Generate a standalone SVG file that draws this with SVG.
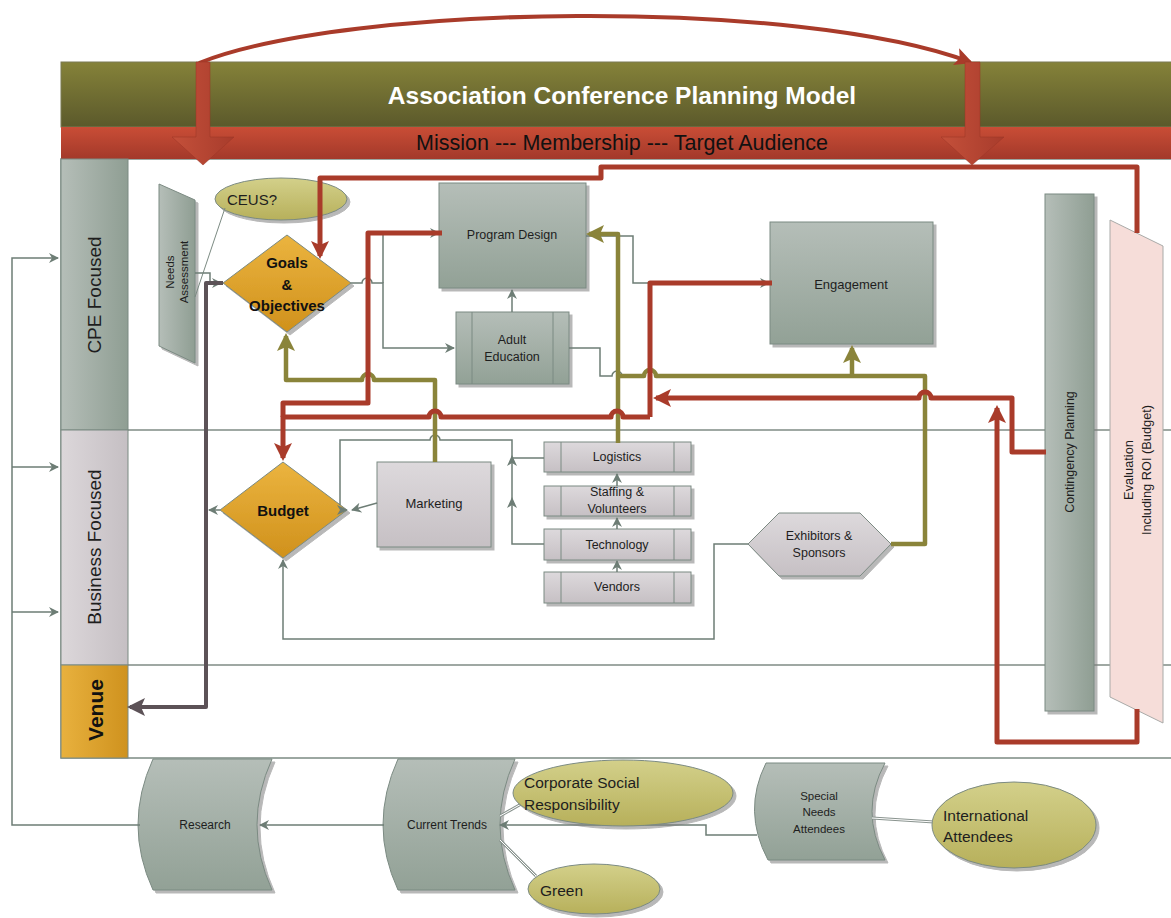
<svg xmlns="http://www.w3.org/2000/svg" width="1171" height="918" viewBox="0 0 1171 918">
<defs>
<linearGradient id="gTitle" x1="0" y1="0" x2="0" y2="1"><stop offset="0" stop-color="#858239"/><stop offset="1" stop-color="#5b592b"/></linearGradient>
<linearGradient id="gBand" x1="0" y1="0" x2="0" y2="1"><stop offset="0" stop-color="#c94d36"/><stop offset="1" stop-color="#a3392a"/></linearGradient>
<linearGradient id="gGreenV" x1="0" y1="0" x2="0" y2="1"><stop offset="0" stop-color="#b5beb8"/><stop offset="1" stop-color="#92a196"/></linearGradient>
<linearGradient id="gGreenH" x1="0" y1="0" x2="1" y2="0"><stop offset="0" stop-color="#b5beb8"/><stop offset="1" stop-color="#8f9e93"/></linearGradient>
<linearGradient id="gPinkV" x1="0" y1="0" x2="0" y2="1"><stop offset="0" stop-color="#ddd9dc"/><stop offset="1" stop-color="#c6c0c4"/></linearGradient>
<linearGradient id="gPinkH" x1="0" y1="0" x2="1" y2="0"><stop offset="0" stop-color="#dcd7da"/><stop offset="1" stop-color="#c5bfc3"/></linearGradient>
<linearGradient id="gOrangeV" x1="0" y1="0" x2="0" y2="1"><stop offset="0" stop-color="#ebb43f"/><stop offset="1" stop-color="#d0911c"/></linearGradient>
<linearGradient id="gOrangeH" x1="0" y1="0" x2="1" y2="0"><stop offset="0" stop-color="#e8b13e"/><stop offset="1" stop-color="#cf921e"/></linearGradient>
<linearGradient id="gOlive" x1="0" y1="0" x2="0" y2="1"><stop offset="0" stop-color="#d3d08a"/><stop offset="1" stop-color="#b7b05b"/></linearGradient>
<linearGradient id="gBlock" x1="0" y1="0" x2="1" y2="0"><stop offset="0" stop-color="#c4503a"/><stop offset="1" stop-color="#a83c2c"/></linearGradient>
<filter id="sh" x="-20%" y="-20%" width="140%" height="140%"><feDropShadow dx="3" dy="3" stdDeviation="0.6" flood-color="#7d7d7d" flood-opacity="0.55"/></filter>
<marker id="aG" viewBox="0 0 10 10" refX="9" refY="5" markerWidth="11" markerHeight="10" markerUnits="userSpaceOnUse" orient="auto"><path d="M0,0 L10,5 L0,10 L3,5 Z" fill="#6d7d75"/></marker>
<marker id="aR" viewBox="0 0 18 18" refX="15" refY="9" markerWidth="18" markerHeight="18" markerUnits="userSpaceOnUse" orient="auto"><path d="M0,0 L18,9 L0,18 L4,9 Z" fill="#a93b2a"/></marker>
<marker id="aO" viewBox="0 0 18 18" refX="15" refY="9" markerWidth="18" markerHeight="18" markerUnits="userSpaceOnUse" orient="auto"><path d="M0,0 L18,9 L0,18 L4,9 Z" fill="#8a843a"/></marker>
<marker id="aD" viewBox="0 0 18 18" refX="15" refY="9" markerWidth="18" markerHeight="18" markerUnits="userSpaceOnUse" orient="auto"><path d="M0,0 L18,9 L0,18 L4,9 Z" fill="#5c5257"/></marker>
</defs>
<style>
text{font-family:"Liberation Sans",Arial,sans-serif;fill:#1e1e1e;dominant-baseline:central}
.c{text-anchor:middle}
.nb{stroke:#7b8a82;stroke-width:1}
.g{fill:none;stroke:#6d7d75;stroke-width:1.5}
.r{fill:none;stroke:#a93b2a;stroke-width:5;stroke-linejoin:round}
.o{fill:none;stroke:#8a843a;stroke-width:4.5;stroke-linejoin:round}
.d{fill:none;stroke:#5c5257;stroke-width:4;stroke-linejoin:round}
.sep{stroke:#7f8b85;stroke-width:1.5}
.dbl{fill:none;stroke:#8a948f;stroke-width:3}
.dbl2{fill:none;stroke:#ffffff;stroke-width:1}
</style>
<rect width="1171" height="918" fill="#ffffff"/>

<!-- frame & lanes -->
<g id="frame">
<rect x="61" y="159" width="1115" height="599" fill="#ffffff" stroke="#7b8a82" stroke-width="1.5"/>
<line class="sep" x1="128" y1="430" x2="1171" y2="430"/>
<line class="sep" x1="128" y1="665" x2="1171" y2="665"/>
</g>
<g id="title">
<rect x="61" y="62" width="1115" height="65" fill="url(#gTitle)" stroke="#7b7a55" stroke-width="1"/>
<text class="c" x="622" y="95" style="font-size:24.5px;font-weight:bold;fill:#ffffff">Association Conference Planning Model</text>
</g>
<g id="band">
<rect x="61" y="127" width="1115" height="32" fill="url(#gBand)"/>
<text class="c" x="622" y="143" style="font-size:21.5px;fill:#111">Mission --- Membership --- Target Audience</text>
</g>
<g id="lane-cpe">
<rect class="nb" x="61" y="159" width="67" height="271" fill="url(#gGreenH)"/>
<text class="c" transform="translate(94,295) rotate(-90)" style="font-size:19px">CPE Focused</text>
</g>
<g id="lane-business">
<rect class="nb" x="61" y="430" width="67" height="235" fill="url(#gPinkH)"/>
<text class="c" transform="translate(94,547) rotate(-90)" style="font-size:19px">Business Focused</text>
</g>
<g id="lane-venue">
<rect class="nb" x="61" y="665" width="67" height="93" fill="url(#gOrangeH)"/>
<text class="c" transform="translate(95,710) rotate(-90)" style="font-size:21px;font-weight:bold;fill:#111">Venue</text>
</g>

<!-- nodes -->
<g id="needs-assessment">
<polygon class="nb" points="159,184 195,200 195,363 159,346" fill="url(#gGreenH)" filter="url(#sh)"/>
<text class="c" transform="translate(177,272) rotate(-90)" style="font-size:11.5px"><tspan x="0" y="-7">Needs</tspan><tspan x="0" y="7">Assessment</tspan></text>
</g>
<g id="ceus">
<ellipse class="nb" cx="281" cy="199" rx="66" ry="21" fill="url(#gOlive)" filter="url(#sh)"/>
<text x="227" y="199" style="font-size:15px">CEUS?</text>
</g>
<g id="goals">
<polygon class="nb" points="287,235 351,283 287,332 223,283" fill="url(#gOrangeV)" filter="url(#sh)"/>
<text class="c" x="287" y="262" style="font-size:15px;font-weight:bold;fill:#111">Goals</text>
<text class="c" x="287" y="284" style="font-size:15px;font-weight:bold;fill:#111">&amp;</text>
<text class="c" x="287" y="305" style="font-size:15px;font-weight:bold;fill:#111">Objectives</text>
</g>
<g id="program-design">
<rect class="nb" x="439" y="183" width="147" height="105" fill="url(#gGreenV)" filter="url(#sh)"/>
<text class="c" x="512" y="235" style="font-size:12.5px">Program Design</text>
</g>
<g id="adult-education">
<rect class="nb" x="456" y="312" width="113" height="72" fill="url(#gGreenV)" filter="url(#sh)"/>
<line class="nb" x1="472" y1="312" x2="472" y2="384"/><line class="nb" x1="553" y1="312" x2="553" y2="384"/>
<text class="c" x="512" y="340" style="font-size:12.5px">Adult</text>
<text class="c" x="512" y="357" style="font-size:12.5px">Education</text>
</g>
<g id="engagement">
<rect class="nb" x="770" y="222" width="163" height="122" fill="url(#gGreenV)" filter="url(#sh)"/>
<text class="c" x="851" y="284" style="font-size:13px">Engagement</text>
</g>
<g id="contingency">
<rect class="nb" x="1045" y="194" width="49" height="517" fill="url(#gGreenH)" filter="url(#sh)"/>
<text class="c" transform="translate(1070,452) rotate(-90)" style="font-size:12.5px">Contingency Planning</text>
</g>
<g id="evaluation">
<polygon points="1110,220 1163,246 1163,723 1110,697" fill="#f6ddd9" stroke="#a9aaa8" stroke-width="1"/>
<text class="c" transform="translate(1137,470) rotate(-90)" style="font-size:12.8px"><tspan x="0" y="-9">Evaluation</tspan><tspan x="0" y="9">Including ROI (Budget)</tspan></text>
</g>
<g id="budget">
<polygon class="nb" points="283,462 347,510 283,558 220,510" fill="url(#gOrangeV)" filter="url(#sh)"/>
<text class="c" x="283" y="510" style="font-size:15px;font-weight:bold;fill:#111">Budget</text>
</g>
<g id="marketing">
<rect class="nb" x="377" y="462" width="114" height="85" fill="url(#gPinkV)" filter="url(#sh)"/>
<text class="c" x="434" y="503" style="font-size:13px">Marketing</text>
</g>
<g id="logistics">
<rect class="nb" x="544" y="442" width="147" height="30" fill="url(#gPinkV)" filter="url(#sh)"/>
<line class="nb" x1="561" y1="442" x2="561" y2="472"/><line class="nb" x1="674" y1="442" x2="674" y2="472"/>
<text class="c" x="617" y="457" style="font-size:12.5px">Logistics</text>
</g>
<g id="staffing">
<rect class="nb" x="544" y="486" width="147" height="30" fill="url(#gPinkV)" filter="url(#sh)"/>
<line class="nb" x1="561" y1="486" x2="561" y2="516"/><line class="nb" x1="674" y1="486" x2="674" y2="516"/>
<text class="c" x="617" y="492" style="font-size:12.5px">Staffing &amp;</text>
<text class="c" x="617" y="509" style="font-size:12.5px">Volunteers</text>
</g>
<g id="technology">
<rect class="nb" x="544" y="529" width="147" height="31" fill="url(#gPinkV)" filter="url(#sh)"/>
<line class="nb" x1="561" y1="529" x2="561" y2="560"/><line class="nb" x1="674" y1="529" x2="674" y2="560"/>
<text class="c" x="617" y="545" style="font-size:12.5px">Technology</text>
</g>
<g id="vendors">
<rect class="nb" x="544" y="572" width="147" height="31" fill="url(#gPinkV)" filter="url(#sh)"/>
<line class="nb" x1="561" y1="572" x2="561" y2="603"/><line class="nb" x1="674" y1="572" x2="674" y2="603"/>
<text class="c" x="617" y="587" style="font-size:12.5px">Vendors</text>
</g>
<g id="exhibitors">
<polygon class="nb" points="748,544 779,513 860,513 891,544 860,576 779,576" fill="url(#gPinkV)" filter="url(#sh)"/>
<text class="c" x="819" y="536" style="font-size:12.5px">Exhibitors &amp;</text>
<text class="c" x="819" y="553" style="font-size:12.5px">Sponsors</text>
</g>
<g id="research">
<path class="nb" d="M153,759 L272,759 Q242,825 272,890 L153,890 Q123,825 153,759 Z" fill="url(#gGreenV)" filter="url(#sh)"/>
<text class="c" x="205" y="825" style="font-size:12px">Research</text>
</g>
<g id="current-trends">
<path class="nb" d="M398,759 L515,759 Q485,825 515,890 L398,890 Q368,825 398,759 Z" fill="url(#gGreenV)" filter="url(#sh)"/>
<text class="c" x="447" y="825" style="font-size:12px">Current Trends</text>
</g>
<g id="special-needs">
<path class="nb" d="M766,763 L885,763 Q859,811 885,860 L768,860 Q742,811 766,763 Z" fill="url(#gGreenV)" filter="url(#sh)"/>
<text class="c" x="819" y="796" style="font-size:11.5px">Special</text>
<text class="c" x="819" y="812" style="font-size:11.5px">Needs</text>
<text class="c" x="819" y="829" style="font-size:11.5px">Attendees</text>
</g>

<!-- connectors -->
<g id="connectors">
<!-- grey thin -->
<path class="g" d="M140,825 H12 V258 H58" marker-end="url(#aG)"/>
<path class="g" d="M12,467 H58" marker-end="url(#aG)"/>
<path class="g" d="M12,612 H58" marker-end="url(#aG)"/>
<path class="g" d="M384,825 H260" marker-end="url(#aG)"/>
<path class="g" d="M757,835 H706 V825 H500" marker-end="url(#aG)"/>
<path class="dbl" d="M500,816 L530,799"/><path class="dbl2" d="M500,816 L530,799"/>
<path class="dbl" d="M500,840 L536,876"/><path class="dbl2" d="M500,840 L536,876"/>
<path class="dbl" d="M872,818 L934,822"/><path class="dbl2" d="M872,818 L934,822"/>
<path fill="none" stroke="#7b8a82" stroke-width="1" d="M195,297 L225,208"/>
<path class="g" d="M195,273 H210 V283 H221" marker-end="url(#aG)"/>
<path class="g" d="M351,283 H362 a5,5 0 0 1 10,0 H383 V348 H454" marker-end="url(#aG)"/>
<path class="g" d="M383,283 V233 H439" marker-end="url(#aG)"/>
<path class="g" d="M512,312 V290" marker-end="url(#aG)"/>
<path class="g" d="M586,236 H633 V283 H769" marker-end="url(#aG)"/>
<path class="g" d="M569,348 H600 V376 H612 a5,5 0 0 1 10,0 H630"/>
<path class="g" d="M544,458 H512"/>
<path class="g" d="M544,544 H512 V440 H440 a5,5 0 0 0 -10,0 H340 V505"/>
<polygon points="512,455 517,466 512,463 507,466" fill="#6d7d75"/>
<polygon points="512,497 517,508 512,505 507,508" fill="#6d7d75"/>
<polygon points="348,510 337,505 340,510 337,515" fill="#6d7d75"/>
<path class="g" d="M377,503 L352,510" marker-end="url(#aG)"/>
<path class="g" d="M220,510 H209" marker-end="url(#aG)"/>
<path class="g" d="M617,486 V474" marker-end="url(#aG)"/>
<path class="g" d="M617,529 V518" marker-end="url(#aG)"/>
<path class="g" d="M617,572 V561" marker-end="url(#aG)"/>
<path class="g" d="M748,544 H714 V639 H283 V560" marker-end="url(#aG)"/>
<!-- dark -->
<path class="d" d="M223,283 H206 V707 H130" marker-end="url(#aD)"/>
<!-- olive -->
<path class="o" d="M435,462 V380 H374 a6,6 0 0 0 -12,0 H286 V336" marker-end="url(#aO)"/>
<path class="o" d="M618,443 V234 H589" marker-end="url(#aO)"/>
<path class="o" d="M891,544 H925 V376 H656 a6,6 0 0 0 -12,0 H618"/>
<path class="o" d="M852,376 V348" marker-end="url(#aO)"/>
<!-- red -->
<path class="r" d="M1137,233 V167 H601 V178 H320 V256" marker-end="url(#aR)"/>
<path class="r" d="M1046,452 H1012 V398 H931 a6,6 0 0 0 -12,0 H656" marker-end="url(#aR)"/>
<path class="r" d="M1137,709 V742 H997 V408" marker-end="url(#aR)"/>
<path class="r" d="M650,417 V283 H772"/>
<path class="r" d="M650,417 H623 a6,6 0 0 0 -12,0 H441 a6,6 0 0 0 -12,0 H283 V458" marker-end="url(#aR)"/>
<path class="r" d="M283,417 V403 H368 V233 H442"/>
<path fill="none" stroke="#a93b2a" stroke-width="4" d="M199,63 C350,3 800,-2 970,62" marker-end="url(#aR)"/>
<g id="block-arrows" fill="url(#gBlock)" stroke="#9a3526" stroke-width="0.5">
<path d="M196,62 H210 V137 H234 L203,165 L172,137 H196 Z"/>
<path d="M965,62 H980 V137 H1004 L972,165 L941,137 H965 Z"/>
</g>
</g>

<g id="ellipses">
<g id="csr">
<ellipse class="nb" cx="623" cy="793" rx="110" ry="33" fill="url(#gOlive)" filter="url(#sh)"/>
<text x="524" y="782" style="font-size:15.5px">Corporate Social</text>
<text x="524" y="804" style="font-size:15.5px">Responsibility</text>
</g>
<g id="green">
<ellipse class="nb" cx="594" cy="889" rx="66" ry="25" fill="url(#gOlive)" filter="url(#sh)"/>
<text x="540" y="890" style="font-size:15.5px">Green</text>
</g>
<g id="international">
<ellipse class="nb" cx="1014" cy="825" rx="82" ry="43" fill="url(#gOlive)" filter="url(#sh)"/>
<text x="943" y="815" style="font-size:15.5px">International</text>
<text x="943" y="836" style="font-size:15.5px">Attendees</text>
</g>
</g>
</svg>
